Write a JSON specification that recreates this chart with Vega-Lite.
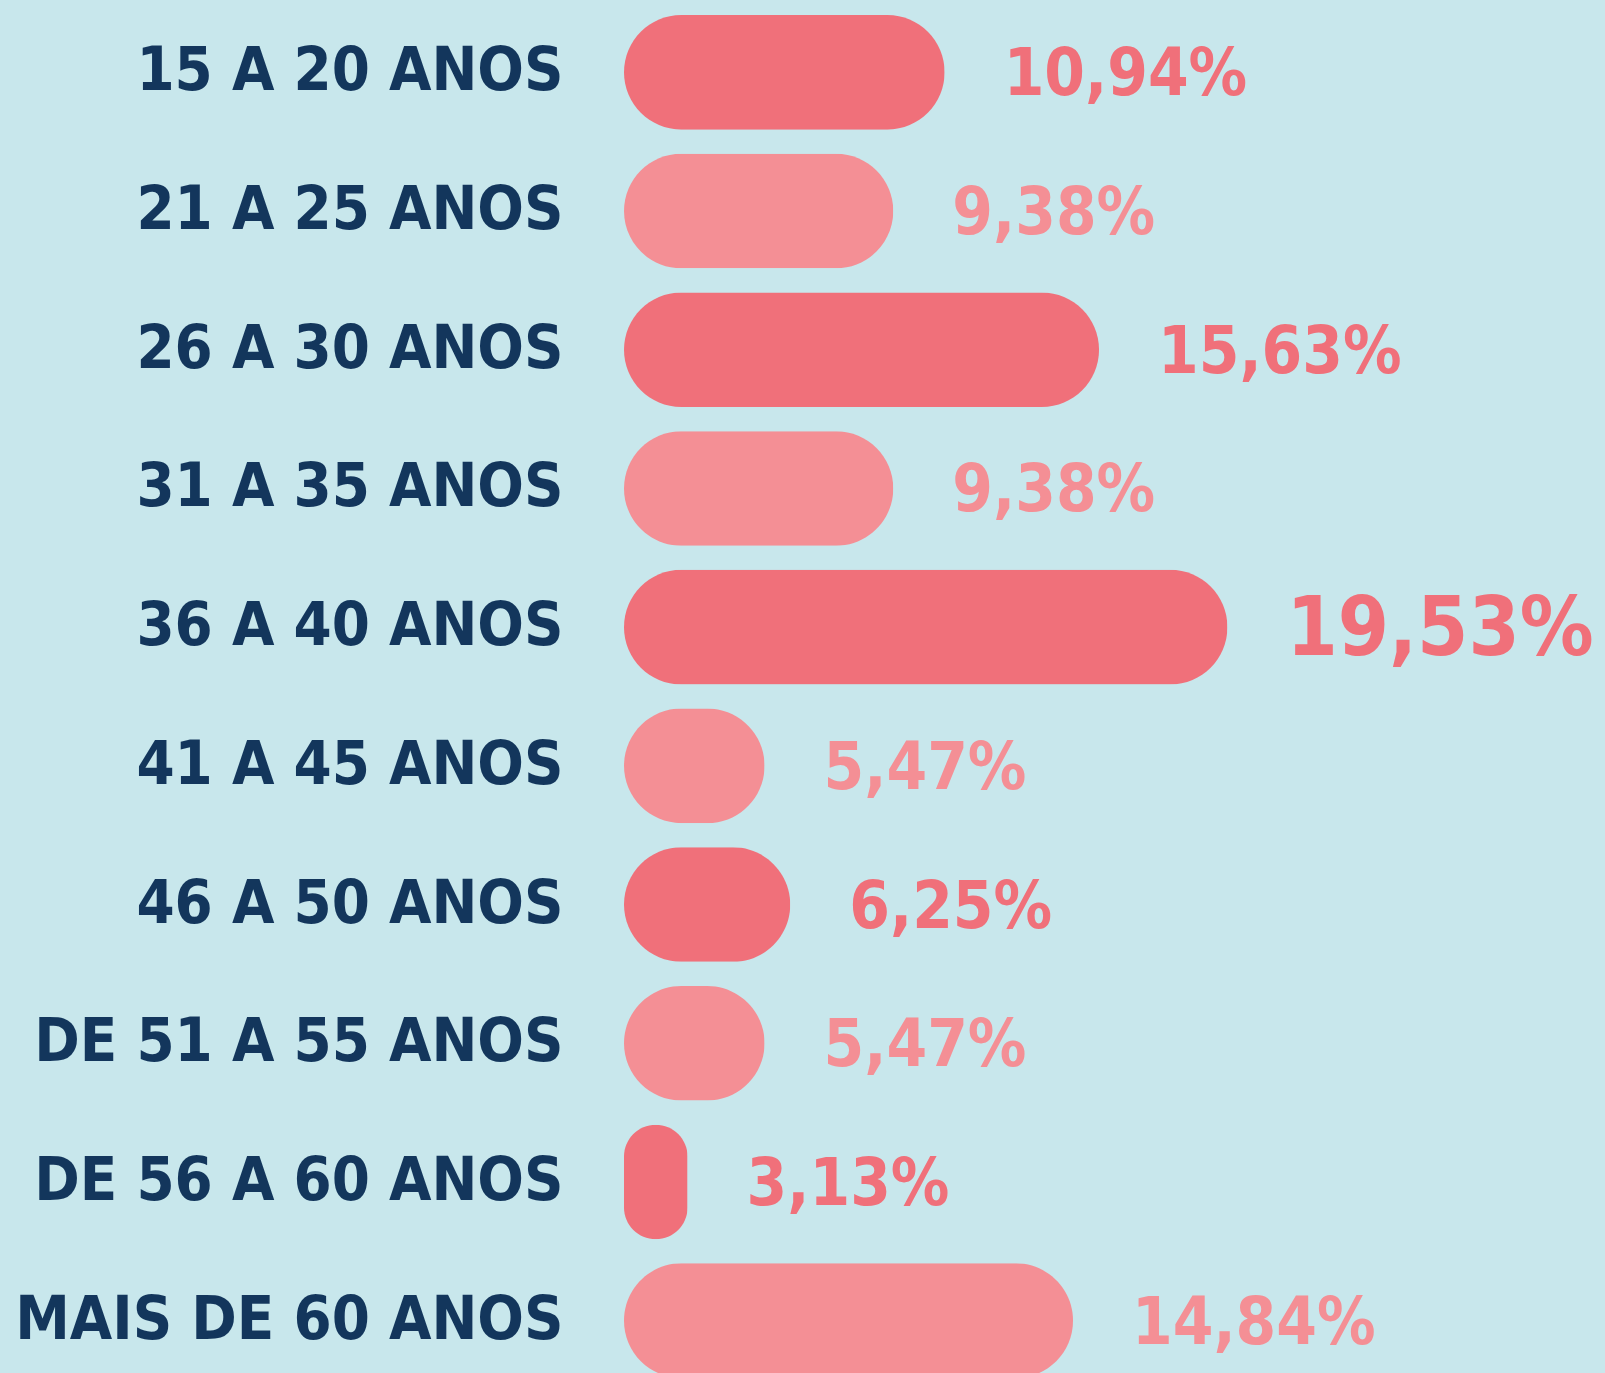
{
  "$schema": "https://vega.github.io/schema/vega-lite/v6.json",
  "width": 981,
  "height": 1387,
  "autosize": {"type": "none"},
  "padding": {"left": 624, "top": 3, "right": 0, "bottom": 0},
  "background": "#c8e7ec",
  "config": {
    "view": {"stroke": null},
    "locale": {"number": {"decimal": ",", "thousands": ".", "grouping": [3], "currency": ["R$", ""]}}
  },
  "data": {
    "values": [
      {"faixa": "15 A 20 ANOS", "pct": 0.1094},
      {"faixa": "21 A 25 ANOS", "pct": 0.0938},
      {"faixa": "26 A 30 ANOS", "pct": 0.1563},
      {"faixa": "31 A 35 ANOS", "pct": 0.0938},
      {"faixa": "36 A 40 ANOS", "pct": 0.1953},
      {"faixa": "41 A 45 ANOS", "pct": 0.0547},
      {"faixa": "46 A 50 ANOS", "pct": 0.0625},
      {"faixa": "DE 51 A 55 ANOS", "pct": 0.0547},
      {"faixa": "DE 56 A 60 ANOS", "pct": 0.0313},
      {"faixa": "MAIS DE 60 ANOS", "pct": 0.1484}
    ]
  },
  "encoding": {
    "y": {
      "field": "faixa",
      "type": "nominal",
      "sort": null,
      "scale": {"paddingInner": 0.174, "paddingOuter": 0.087},
      "axis": {
        "title": null,
        "ticks": false,
        "domain": false,
        "labelPadding": 61,
        "labelLimit": 0,
        "labelFont": "DejaVu Sans Condensed",
        "labelFontWeight": "bold",
        "labelFontSize": 61,
        "labelColor": "#13365c",
        "labelAlign": "right"
      }
    }
  },
  "layer": [
    {
      "mark": {"type": "bar", "cornerRadius": 58},
      "encoding": {
        "x": {
          "field": "pct",
          "type": "quantitative",
          "scale": {"domain": [0.012, 0.31], "zero": false, "nice": false, "clamp": true},
          "axis": null
        },
        "color": {
          "condition": {"test": "indexof(['21 A 25 ANOS','31 A 35 ANOS','41 A 45 ANOS','DE 51 A 55 ANOS','MAIS DE 60 ANOS'], datum.faixa) >= 0", "value": "#f48f95"},
          "value": "#f0707a"
        }
      }
    },
    {
      "mark": {
        "type": "text",
        "align": "left",
        "baseline": "middle",
        "dx": 59,
        "dy": 3,
        "font": "DejaVu Sans Condensed",
        "fontWeight": "bold"
      },
      "encoding": {
        "x": {"field": "pct", "type": "quantitative"},
        "text": {"field": "pct", "type": "quantitative", "format": ".2%"},
        "size": {
          "condition": {"test": "datum.pct > 0.19", "value": 82},
          "value": 65
        },
        "color": {
          "condition": {"test": "indexof(['21 A 25 ANOS','31 A 35 ANOS','41 A 45 ANOS','DE 51 A 55 ANOS','MAIS DE 60 ANOS'], datum.faixa) >= 0", "value": "#f48f95"},
          "value": "#f0707a"
        }
      }
    }
  ]
}
